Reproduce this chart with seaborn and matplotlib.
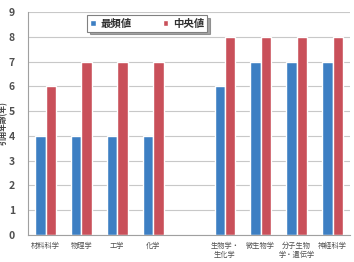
import matplotlib
matplotlib.use("Agg")
import matplotlib.pyplot as plt
import seaborn as sns
import pandas as pd
import numpy as np

categories = ["材料科学", "物理学", "工学", "化学", " ", "生物学・\n生化学", "微生物学", "分子生物\n学・遺伝学", "神経科学"]
mode_vals = [4, 4, 4, 4, np.nan, 6, 7, 7, 7]
median_vals = [6, 7, 7, 7, np.nan, 8, 8, 8, 8]
series = ["最頻値", "中央値"]
colors = ["#3D7FC3", "#C9505A"]

sns.set_theme(style="white")
plt.rcParams['font.family'] = ['Noto Sans CJK JP', 'DejaVu Sans']

df = pd.DataFrame({
    "cat": categories * 2,
    "val": mode_vals + median_vals,
    "series": [series[0]] * len(categories) + [series[1]] * len(categories),
})

fig = plt.figure(figsize=(3.54, 2.62), dpi=100)
ax = fig.add_axes([0.078, 0.103, 0.912, 0.851])
sns.barplot(data=df, x="cat", y="val", hue="series", palette=colors,
            width=0.58, ax=ax, saturation=1, legend=True)

ax.set_ylim(0, 9)
ax.set_xlim(-0.5, len(categories) - 0.5)
ax.set_yticks(range(0, 10))
ax.yaxis.grid(True, color="#C8C8C8", linewidth=0.8)
ax.set_axisbelow(True)
for s in ["top", "right"]:
    ax.spines[s].set_visible(False)
for s in ["left", "bottom"]:
    ax.spines[s].set_color("#A0A0A0")
    ax.spines[s].set_linewidth(0.8)

ax.set_xlabel("")
ax.set_ylabel("引用年齢(年)", fontsize=5.5, color="#404040", fontweight="bold")
ax.yaxis.set_label_coords(-0.06, 0.5)
ax.tick_params(axis="y", labelsize=7.5, colors="#505050", length=3, width=0.6, pad=6)
ax.tick_params(axis="y", color="#A0A0A0")
ax.tick_params(axis="x", labelsize=5.2, colors="#505050", length=0, pad=5)
for lbl in ax.get_yticklabels():
    lbl.set_fontweight("bold")
ax.set_xticks(np.arange(len(categories) + 1) - 0.5, minor=True)
ax.tick_params(axis="x", which="minor", length=3, width=0.6, color="#A0A0A0")

leg = ax.legend(loc="upper left", bbox_to_anchor=(0.185, 0.985), ncol=2, fontsize=7.5,
                frameon=True, handlelength=0.55, handleheight=0.55, columnspacing=3.0,
                handletextpad=0.4, borderpad=0.3, borderaxespad=0, fancybox=False, shadow=True)
leg.get_frame().set_edgecolor("#808080")
leg.get_frame().set_linewidth(0.8)
for t in leg.get_texts():
    t.set_fontweight("bold")
    t.set_color("#303030")

fig.savefig("out.png", dpi=100)
